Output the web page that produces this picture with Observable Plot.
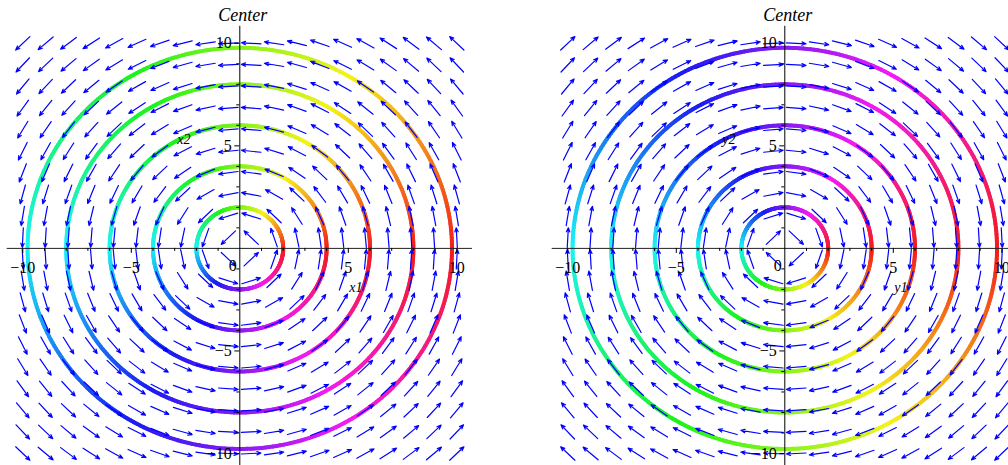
<!DOCTYPE html>
<html><head><meta charset="utf-8">
<script src="https://cdn.jsdelivr.net/npm/d3@7"></script>
<script src="https://cdn.jsdelivr.net/npm/@observablehq/plot@0.6"></script>
<style>
html,body{margin:0;padding:0;background:#fff;}
#wrap{position:relative;width:1008px;height:465px;overflow:hidden;background:#fff;}
#wrap svg{position:absolute;top:0;max-width:none;}
</style></head><body><div id="wrap"></div>
<script>
// ---- data ----
const radii = [2, 4, 6, 8, 9.78];            // closed trajectories (circles) of the center
const gridCount = 20;                        // 20 x 20 direction-field grid
const fieldDomain = [-10, 10];
const majorTicks = [-10, -5, 5, 10];
const minorTicks = [-9, -8, -7, -6, -4, -3, -2, -1, 1, 2, 3, 4, 6, 7, 8, 9];
const systemMatrices = [[[0, -1], [1, 0]], [[0, 1], [-1, 0]]]; // x' = A x  (left: CCW, right: CW)
const hueDirection = [1, -1];
const xAxisNames = ["x1", "y1"];
const yAxisNames = ["x2", "y2"];
const titles = ["Center", "Center"];
const panelOffsets = [0, 545];

// ---- layout ----
const W = 470, H = 465;
const xRange = [22.3, 456.3], yRange = [453, 42.8];
const kx = (xRange[1] - xRange[0]) / 20, ky = (yRange[0] - yRange[1]) / 20;
const serif = "'Liberation Serif', 'Times New Roman', serif";
const fmt = d => d < 0 ? "\u2212" + Math.abs(d) : String(d);

const grid = d3.range(gridCount).map(i => fieldDomain[0] + i * (fieldDomain[1] - fieldDomain[0]) / (gridCount - 1));

function panel(p) {
  const A = systemMatrices[p];
  // direction field arrows, fixed pixel length, centred on grid points
  const half = 9.8;
  const arrows = [];
  for (const gx of grid) for (const gy of grid) {
    const u = A[0][0] * gx + A[0][1] * gy, v = A[1][0] * gx + A[1][1] * gy;
    const px = u * kx, py = v * ky, n = Math.hypot(px, py) || 1;
    const dx = px / n * half / kx, dy = py / n * half / ky;
    arrows.push({x1: gx - dx, y1: gy - dy, x2: gx + dx, y2: gy + dy});
  }
  // trajectories coloured by phase
  const N = 360;
  const segs = [];
  for (const r of radii) {
    for (let i = 0; i < N; i++) {
      const a0 = 2 * Math.PI * i / N, a1 = 2 * Math.PI * (i + 1) / N;
      const mid = (i + 0.5) * 360 / N;
      const hue = ((hueDirection[p] * mid) % 360 + 360) % 360;
      segs.push({x1: r * Math.cos(a0), y1: r * Math.sin(a0), x2: r * Math.cos(a1), y2: r * Math.sin(a1),
                 color: d3.hsl(hue, 0.9, 0.53).formatHex()});
    }
  }
  const svg = Plot.plot({
    width: W, height: H, margin: 0,
    x: {domain: fieldDomain, range: xRange, axis: null},
    y: {domain: fieldDomain, range: yRange, axis: null},
    color: {type: "identity"},
    style: {background: "transparent", overflow: "visible"},
    marks: [
      Plot.link(segs, {x1: "x1", y1: "y1", x2: "x2", y2: "y2", stroke: "color", strokeWidth: 4, strokeLinecap: "round"}),
      Plot.arrow(arrows, {x1: "x1", y1: "y1", x2: "x2", y2: "y2", stroke: "#0000ff", strokeWidth: 1.2, headLength: 5.5, headAngle: 45}),
      Plot.ruleY([0], {x1: -10.72, x2: 10.72, stroke: "#222", strokeWidth: 1}),
      Plot.ruleX([0], {y1: -10.9, y2: 10.83, stroke: "#000", strokeWidth: 1}),
      Plot.ruleX(minorTicks, {x: d => d, y1: 0, y2: -3 / ky, stroke: "#000"}),
      Plot.ruleX(majorTicks, {x: d => d, y1: 0, y2: -5 / ky, stroke: "#000"}),
      Plot.ruleY(minorTicks, {y: d => d, x1: 0, x2: -3 / kx, stroke: "#000"}),
      Plot.ruleY(majorTicks, {y: d => d, x1: 0, x2: -5 / kx, stroke: "#000"}),
      Plot.text(majorTicks, {x: d => d, y: 0, text: fmt, dy: 19, fontSize: 16, fontFamily: serif, fill: "#000"}),
      Plot.text(majorTicks, {x: 0, y: d => d, text: fmt, dx: -8, textAnchor: "end", fontSize: 16, fontFamily: serif, fill: "#000"}),
      Plot.text(["0"], {x: 0, y: 0, text: d => d, dx: -7, dy: 17, fontSize: 16, fontFamily: serif, fill: "#000"}),
      Plot.text([xAxisNames[p]], {x: 0, y: 0, text: d => d, dx: 116, dy: 39, fontSize: 14, fontStyle: "italic", fontFamily: serif, fill: "#000"}),
      Plot.text([yAxisNames[p]], {x: 0, y: 0, text: d => d, dx: -56, dy: -109, fontSize: 14, fontStyle: "italic", fontFamily: serif, fill: "#000"}),
      Plot.text([titles[p]], {x: 0, y: 10, text: d => d, dx: 3, dy: -28, fontSize: 18, fontStyle: "italic", fontFamily: serif, fill: "#000"})
    ]
  });
  svg.style.left = panelOffsets[p] + "px";
  return svg;
}
const wrap = document.getElementById("wrap");
wrap.appendChild(panel(0));
wrap.appendChild(panel(1));
</script></body></html>
